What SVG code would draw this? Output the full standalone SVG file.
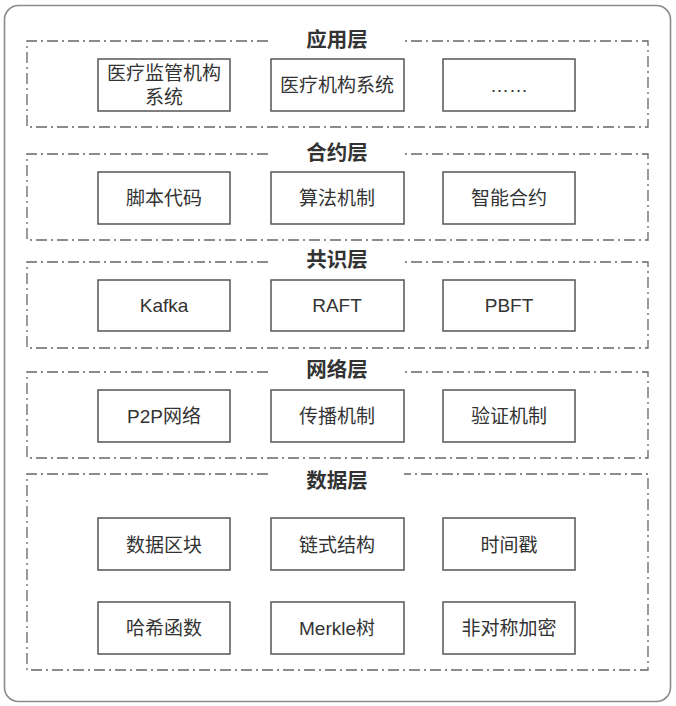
<svg xmlns="http://www.w3.org/2000/svg" width="676" height="706" viewBox="0 0 676 706">
<style>
.outer{fill:#fff;stroke:#8a8a8a;stroke-width:1.6}
.sec{fill:none;stroke:#666;stroke-width:1.3;stroke-dasharray:11 4 2 4}
.box{fill:#fff;stroke:#555;stroke-width:1.5}
.t{font-family:"Liberation Sans","Noto Sans CJK SC",sans-serif;font-size:19px;fill:#333;text-anchor:middle;dominant-baseline:central}
.h{font-family:"Liberation Sans","Noto Sans CJK SC",sans-serif;font-size:20.5px;font-weight:bold;fill:#333;text-anchor:middle;dominant-baseline:central}
</style>
<rect class="outer" x="4.5" y="5.5" width="666" height="696" rx="14"/>
<g id="connectors"></g>
<g id="layer-app">
<path class="sec" d="M268 41 H27 V127 H648 V41 H404"/>
<text class="h" x="337" y="39">应用层</text>
</g>
<g id="app1"><rect class="box" x="98" y="59" width="132" height="52"/><text class="t" x="164" y="73">医疗监管机构</text><text class="t" x="164" y="97">系统</text></g>
<g id="app2"><rect class="box" x="271" y="59" width="133" height="52"/><text class="t" x="337" y="85">医疗机构系统</text></g>
<g id="app3"><rect class="box" x="443" y="59" width="132" height="52"/><text class="t" x="509" y="85">……</text></g>

<g id="layer-contract">
<path class="sec" d="M268 154 H27 V240 H648 V154 H404"/>
<text class="h" x="337" y="152">合约层</text>
</g>
<g id="c1"><rect class="box" x="98" y="172" width="132" height="52"/><text class="t" x="164" y="198">脚本代码</text></g>
<g id="c2"><rect class="box" x="271" y="172" width="133" height="52"/><text class="t" x="337" y="198">算法机制</text></g>
<g id="c3"><rect class="box" x="443" y="172" width="132" height="52"/><text class="t" x="509" y="198">智能合约</text></g>

<g id="layer-consensus">
<path class="sec" d="M268 262 H27 V348 H648 V262 H404"/>
<text class="h" x="337" y="259">共识层</text>
</g>
<g id="k1"><rect class="box" x="98" y="280" width="132" height="51"/><text class="t" x="164" y="305">Kafka</text></g>
<g id="k2"><rect class="box" x="271" y="280" width="133" height="51"/><text class="t" x="337" y="305">RAFT</text></g>
<g id="k3"><rect class="box" x="443" y="280" width="132" height="51"/><text class="t" x="509" y="305">PBFT</text></g>

<g id="layer-network">
<path class="sec" d="M268 372 H27 V458 H648 V372 H404"/>
<text class="h" x="337" y="369">网络层</text>
</g>
<g id="n1"><rect class="box" x="98" y="390" width="132" height="52"/><text class="t" x="164" y="416">P2P网络</text></g>
<g id="n2"><rect class="box" x="271" y="390" width="133" height="52"/><text class="t" x="337" y="416">传播机制</text></g>
<g id="n3"><rect class="box" x="443" y="390" width="132" height="52"/><text class="t" x="509" y="416">验证机制</text></g>

<g id="layer-data">
<path class="sec" d="M268 474 H27 V670 H648 V474 H404"/>
<text class="h" x="337" y="480">数据层</text>
</g>
<g id="d1"><rect class="box" x="98" y="518" width="132" height="52"/><text class="t" x="164" y="545">数据区块</text></g>
<g id="d2"><rect class="box" x="271" y="518" width="133" height="52"/><text class="t" x="337" y="545">链式结构</text></g>
<g id="d3"><rect class="box" x="443" y="518" width="132" height="52"/><text class="t" x="509" y="545">时间戳</text></g>
<g id="d4"><rect class="box" x="98" y="602" width="132" height="52"/><text class="t" x="164" y="628">哈希函数</text></g>
<g id="d5"><rect class="box" x="271" y="602" width="133" height="52"/><text class="t" x="337" y="628">Merkle树</text></g>
<g id="d6"><rect class="box" x="443" y="602" width="132" height="52"/><text class="t" x="509" y="628">非对称加密</text></g>
</svg>
